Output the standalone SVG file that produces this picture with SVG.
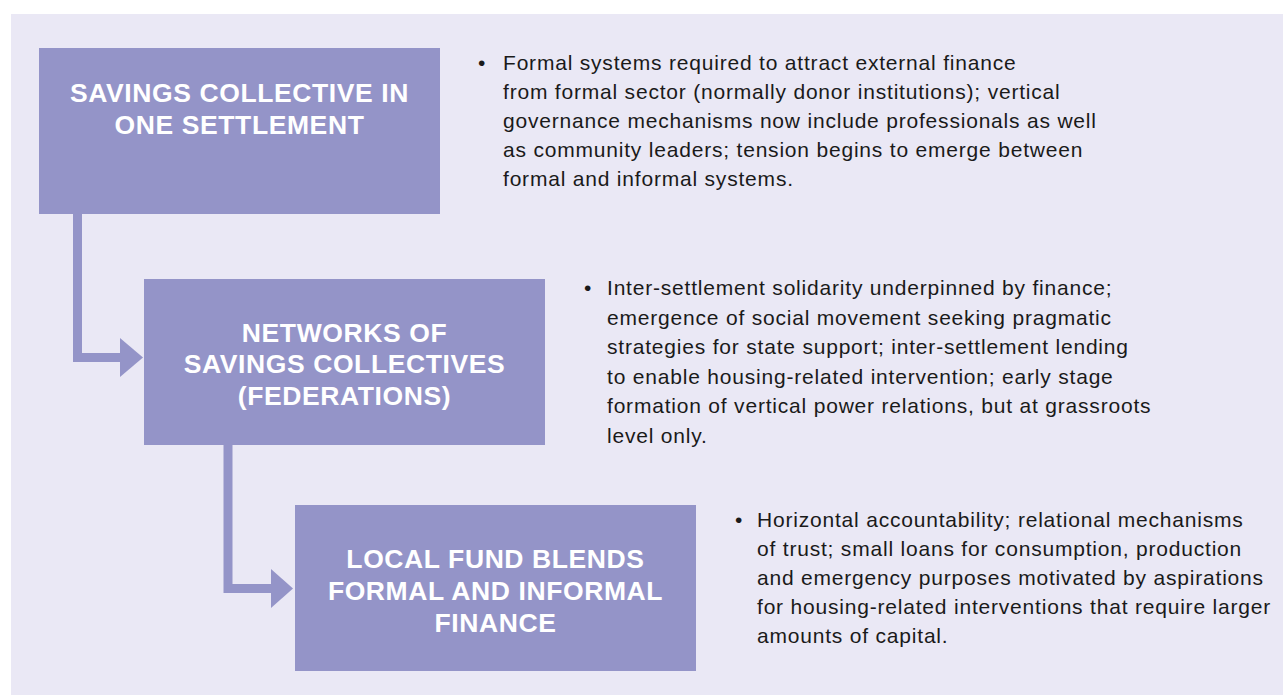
<svg xmlns="http://www.w3.org/2000/svg" width="1283" height="695" viewBox="0 0 1283 695">
<style>
.box{fill:#9494c8}
.bt{font-family:"Liberation Sans",Arial,sans-serif;font-weight:bold;font-size:26.5px;letter-spacing:0.6px;fill:#ffffff;text-anchor:middle}
.tx{font-family:"Liberation Sans",Arial,sans-serif;font-size:21px;letter-spacing:0.8px;fill:#1a1a1a}
.conn{fill:none;stroke:#9494c8;stroke-width:9}
.head{fill:#9494c8}
</style>
<rect x="0" y="0" width="1283" height="695" fill="#ffffff"/>
<rect x="11" y="14" width="1272" height="681" fill="#eae8f5"/>
<g id="connectors">
<path class="conn" d="M77.5,214 V357.5 H122"/>
<polygon class="head" points="120,338 143,357.5 120,377"/>
<path class="conn" d="M228,445 V588.5 H273"/>
<polygon class="head" points="271,569 293,588.5 271,608"/>
</g>
<g id="node1">
<rect class="box" x="39" y="48" width="401" height="166"/>
<text class="bt" x="239.5" y="102">SAVINGS COLLECTIVE IN</text>
<text class="bt" x="239.5" y="134">ONE SETTLEMENT</text>
</g>
<g id="node2">
<rect class="box" x="144" y="279" width="401" height="166"/>
<text class="bt" x="344.5" y="342">NETWORKS OF</text>
<text class="bt" x="344.5" y="373">SAVINGS COLLECTIVES</text>
<text class="bt" x="344.5" y="405">(FEDERATIONS)</text>
</g>
<g id="node3">
<rect class="box" x="295" y="505" width="401" height="166"/>
<text class="bt" x="495.5" y="568">LOCAL FUND BLENDS</text>
<text class="bt" x="495.5" y="600">FORMAL AND INFORMAL</text>
<text class="bt" x="495.5" y="632">FINANCE</text>
</g>
<g id="text1" class="tx">
<text x="478" y="70">•</text>
<text x="503" y="70">Formal systems required to attract external finance</text>
<text x="503" y="99">from formal sector (normally donor institutions); vertical</text>
<text x="503" y="128">governance mechanisms now include professionals as well</text>
<text x="503" y="157">as community leaders; tension begins to emerge between</text>
<text x="503" y="186">formal and informal systems.</text>
</g>
<g id="text2" class="tx">
<text x="584" y="295">•</text>
<text x="607" y="295">Inter-settlement solidarity underpinned by finance;</text>
<text x="607" y="325">emergence of social movement seeking pragmatic</text>
<text x="607" y="354">strategies for state support; inter-settlement lending</text>
<text x="607" y="384">to enable housing-related intervention; early stage</text>
<text x="607" y="413">formation of vertical power relations, but at grassroots</text>
<text x="607" y="443">level only.</text>
</g>
<g id="text3" class="tx">
<text x="735" y="527">•</text>
<text x="757" y="527">Horizontal accountability; relational mechanisms</text>
<text x="757" y="556">of trust; small loans for consumption, production</text>
<text x="757" y="585">and emergency purposes motivated by aspirations</text>
<text x="757" y="614">for housing-related interventions that require larger</text>
<text x="757" y="643">amounts of capital.</text>
</g>
</svg>
